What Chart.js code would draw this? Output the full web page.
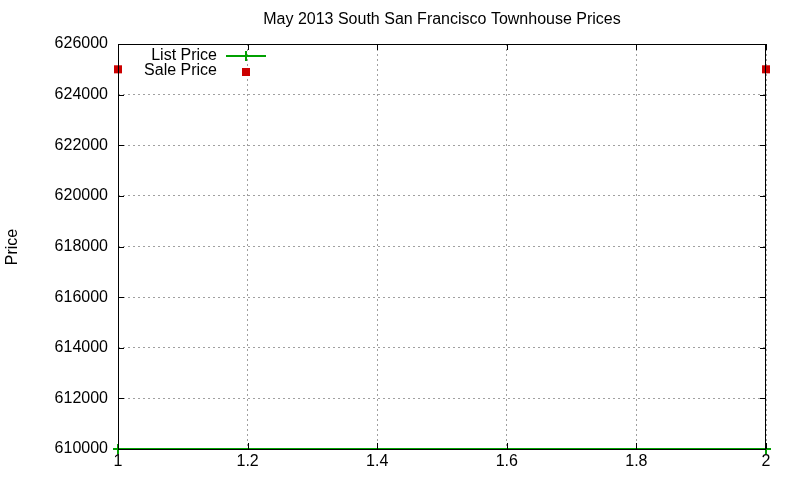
<!DOCTYPE html>
<html>
<head>
<meta charset="utf-8">
<script src="https://cdn.jsdelivr.net/npm/chart.js@4"></script>
<style>
  html, body { margin: 0; padding: 0; background: #fff; }
  #wrap { width: 800px; height: 480px; }
</style>
</head>
<body>
<div id="wrap"><canvas id="priceChart" width="800" height="480"></canvas></div>
<script>
const xValues = [1, 2];
const listPrice = [610000, 610000];
const salePrice = [625000, 625000];
const seriesNames = ["List Price", "Sale Price"];
const chartTitle = "May 2013 South San Francisco Townhouse Prices";
const yLabel = "Price";

const green = "rgb(0, 160, 0)";
const red = "rgb(204, 0, 0)";
const font = "Liberation Sans, Arial, sans-serif";

// gnuplot style frame, inward ticks, title, key and y label
const gnuplotBits = {
  id: "gnuplotBits",
  afterDraw(chart) {
    const c = chart.ctx;
    const a = chart.chartArea;
    const xs = chart.scales.x, ys = chart.scales.y;
    c.save();
    c.strokeStyle = "#000";
    c.lineWidth = 1;
    c.strokeRect(a.left + 0.5, a.top + 0.5, a.right - a.left - 1, a.bottom - a.top);
    c.beginPath();
    ys.ticks.forEach(t => {
      const y = Math.round(ys.getPixelForValue(t.value)) + 0.5;
      c.moveTo(a.left, y); c.lineTo(a.left + 6, y);
      c.moveTo(a.right, y); c.lineTo(a.right - 6, y);
    });
    xs.ticks.forEach(t => {
      const x = Math.round(xs.getPixelForValue(t.value)) + 0.5;
      c.moveTo(x, a.bottom); c.lineTo(x, a.bottom - 6);
      c.moveTo(x, a.top); c.lineTo(x, a.top + 6);
    });
    c.stroke();

    c.font = "16px " + font;
    c.fillStyle = "#000";
    c.textBaseline = "middle";

    // title, centred over the plot
    c.textAlign = "center";
    c.fillText(chartTitle, (a.left + a.right) / 2, 20);

    // key
    c.textAlign = "right";
    c.fillText(seriesNames[0], 217, 56);
    c.fillText(seriesNames[1], 217, 71);
    c.strokeStyle = green;
    c.lineWidth = 2;
    c.beginPath();
    c.moveTo(226, 56); c.lineTo(266, 56);
    c.moveTo(246, 51); c.lineTo(246, 61);
    c.stroke();
    c.fillStyle = red;
    c.fillRect(242, 68, 8, 8);

    // y axis label
    c.fillStyle = "#000";
    c.translate(13, 247);
    c.rotate(-Math.PI / 2);
    c.textAlign = "center";
    c.fillText(yLabel, 0, 0);
    c.restore();
  }
};

new Chart(document.getElementById("priceChart").getContext("2d"), {
  type: "line",
  data: {
    datasets: [
      {
        label: seriesNames[0],
        data: xValues.map((x, i) => ({ x: x, y: listPrice[i] })),
        borderColor: green,
        backgroundColor: green,
        borderWidth: 2,
        pointStyle: "cross",
        pointRadius: 5,
        pointBorderWidth: 2,
        clip: false,
      },
      {
        label: seriesNames[1],
        data: xValues.map((x, i) => ({ x: x, y: salePrice[i] })),
        showLine: false,
        borderColor: red,
        backgroundColor: red,
        pointStyle: "rect",
        pointRadius: 5.7,
        pointBorderWidth: 0,
        clip: false,
      },
    ],
  },
  options: {
    responsive: false,
    animation: false,
    layout: { padding: { left: 0, right: 34, top: 44, bottom: 0 } },
    plugins: {
      legend: { display: false },
      tooltip: { enabled: false },
      title: { display: false },
    },
    scales: {
      x: {
        type: "linear",
        min: 1,
        max: 2,
        ticks: {
          stepSize: 0.2,
          color: "#000",
          font: { family: font, size: 16 },
          padding: 3,
          maxRotation: 0,
          callback: v => String(Number(v.toFixed(1))),
        },
        grid: { color: "#a0a0a0", drawTicks: false },
        border: { display: false, dash: [2, 3] },
        afterFit: s => { s.height = 31; },
      },
      y: {
        min: 610000,
        max: 626000,
        ticks: {
          stepSize: 2000,
          color: "#000",
          font: { family: font, size: 16 },
          padding: 10,
          callback: v => String(v),
        },
        grid: { color: "#a0a0a0", drawTicks: false },
        border: { display: false, dash: [2, 3] },
        afterFit: s => { s.width = 118; },
      },
    },
  },
  plugins: [gnuplotBits],
});
</script>
</body>
</html>
